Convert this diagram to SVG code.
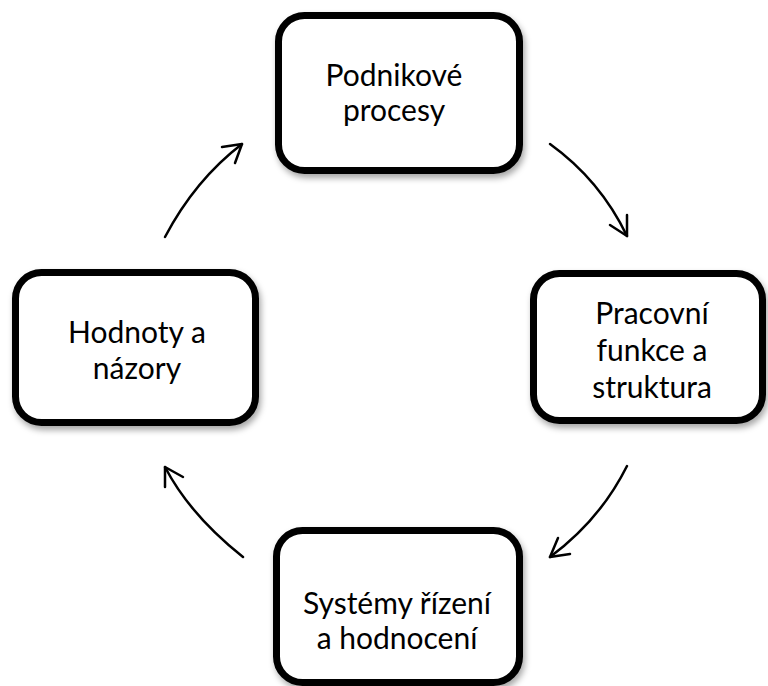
<svg xmlns="http://www.w3.org/2000/svg" width="768" height="686" viewBox="0 0 768 686">
  <defs>
    <filter id="shadow" x="-10%" y="-10%" width="125%" height="130%">
      <feDropShadow dx="2" dy="4" stdDeviation="3" flood-color="#000" flood-opacity="0.35"/>
    </filter>
    <style>
      .box { fill: #fff; stroke: #000; stroke-width: 7; filter: url(#shadow); }
      .label { font-family: Lato, "Open Sans", sans-serif; font-size: 30px; fill: #000; text-anchor: middle; }
      .arc { fill: none; stroke: #000; stroke-width: 2.5; stroke-linecap: round; stroke-linejoin: round; }
    </style>
  </defs>
  <rect width="768" height="686" fill="#fff"/>

  <g id="connectors">
    <path class="arc" d="M165,237 Q195,180 242,144"/>
    <path class="arc" d="M222,147 L242,144 L235,163"/>
    <path class="arc" d="M550,144 Q600,180 627,236"/>
    <path class="arc" d="M610,225 L627,236 L627,215"/>
    <path class="arc" d="M627,466 Q600,520 550,557"/>
    <path class="arc" d="M558,538 L550,557 L570,554"/>
    <path class="arc" d="M243,557 Q190,515 165,467"/>
    <path class="arc" d="M165,487 L165,467 L183,477"/>
  </g>

  <g id="node-podnikove-procesy">
    <rect class="box" x="278.5" y="15.5" width="241" height="155" rx="26"/>
    <text class="label" x="394" y="86">Podnikové</text>
    <text class="label" x="394" y="121">procesy</text>
  </g>

  <g id="node-pracovni-funkce">
    <rect class="box" x="533.5" y="273.5" width="229" height="147" rx="26"/>
    <text class="label" x="652" y="324">Pracovní</text>
    <text class="label" x="652" y="361">funkce a</text>
    <text class="label" x="652" y="398">struktura</text>
  </g>

  <g id="node-hodnoty-nazory">
    <rect class="box" x="15.5" y="272.5" width="240" height="150" rx="26"/>
    <text class="label" x="137" y="343">Hodnoty a</text>
    <text class="label" x="137" y="379">názory</text>
  </g>

  <g id="node-systemy-rizeni">
    <rect class="box" x="276.5" y="530.5" width="243" height="152" rx="26"/>
    <text class="label" x="397" y="614">Systémy řízení</text>
    <text class="label" x="397" y="649">a hodnocení</text>
  </g>
</svg>
